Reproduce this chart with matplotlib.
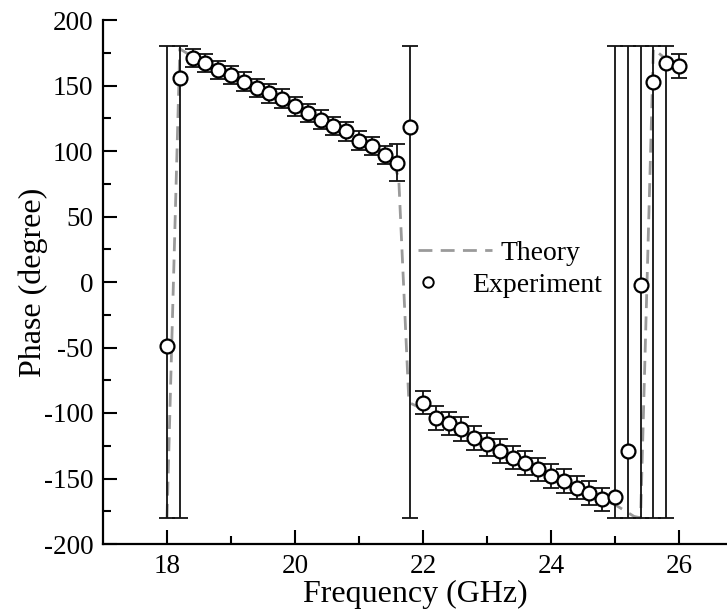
import numpy as np
import matplotlib
matplotlib.use('Agg')
import matplotlib.pyplot as plt
from matplotlib.lines import Line2D

plt.rcParams['font.family'] = ['Liberation Serif', 'DejaVu Serif']
plt.rcParams['axes.unicode_minus'] = False

# measured phase (degree) vs frequency (GHz)
exp_freq = [18.0, 18.2, 18.4, 18.6, 18.8, 19.0, 19.2, 19.4, 19.6, 19.8,
            20.0, 20.2, 20.4, 20.6, 20.8, 21.0, 21.2, 21.4, 21.6, 21.8,
            22.0, 22.2, 22.4, 22.6, 22.8, 23.0, 23.2, 23.4, 23.6, 23.8,
            24.0, 24.2, 24.4, 24.6, 24.8, 25.0, 25.2, 25.4, 25.6, 25.8,
            26.0]
exp_phase = [-49, 156, 171, 167, 162, 158, 153, 148, 144, 140,
             134, 129, 124, 119, 115, 108, 104, 97, 91, 118,
             -92, -104, -108, -112, -119, -124, -129, -134, -138, -143,
             -148, -152, -157, -161, -166, -164, -129, -2, 153, 167,
             165]
# error bar ends (bottom, top)
bar_lo = [-180, -180, 164, 160, 155, 151, 146, 141, 137, 133,
          127, 122, 117, 112, 108, 101, 97, 90, 77, -180,
          -101, -113, -117, -121, -128, -133, -138, -143, -147, -152,
          -157, -161, -166, -170, -175, -180, -180, -180, -180, -180,
          156]
bar_hi = [180, 180, 178, 174, 169, 165, 160, 155, 151, 147,
          141, 136, 131, 126, 122, 115, 111, 104, 105, 180,
          -83, -95, -99, -103, -110, -115, -120, -125, -129, -134,
          -139, -143, -148, -152, -157, 180, 180, 180, 180, 180,
          174]

# simulated phase
th_freq = [18.0, 18.2, 18.4, 18.6, 18.8, 19.0, 19.5, 20.0, 20.5, 21.0,
           21.3, 21.5, 21.62, 21.78, 22.0, 22.5, 23.0, 23.5, 24.0, 24.5,
           25.0, 25.3, 25.4, 25.6, 25.8, 26.0]
th_phase = [-180, 178, 172, 167, 162, 158, 146, 134, 122, 110,
            102, 94, 80, -92, -97, -110, -123, -136, -148, -160,
            -170, -179, -180, 178, 170, 163]

exp_phase = np.array(exp_phase, dtype=float)
yerr = [exp_phase - np.array(bar_lo), np.array(bar_hi) - exp_phase]

fig = plt.figure(figsize=(7.27, 6.12), dpi=100)
ax = fig.add_axes([103 / 727, 68 / 612, 624 / 727, 524 / 612])

th_style = dict(color='#9a9a9a', lw=2.0, ls=(0, (5, 3)))
ax.plot(th_freq, th_phase, zorder=2, **th_style)
ax.errorbar(exp_freq, exp_phase, yerr=yerr, fmt='none', ecolor='#111111',
            elinewidth=1.3, capsize=6, capthick=1.3, zorder=3)
ax.plot(exp_freq, exp_phase, 'o', ms=10, mfc='white', mec='black', mew=1.6,
        zorder=4)

ax.set_xlim(17, 26.75)
ax.set_ylim(-200, 200)
ax.set_xticks([18, 20, 22, 24, 26])
ax.set_xticks([19, 21, 23, 25], minor=True)
ax.set_yticks(np.arange(-200, 201, 50))
ax.set_yticks(np.arange(-175, 200, 50), minor=True)
ax.tick_params(which='both', direction='in', width=1.5, labelsize=19.5,
               top=False, right=False)
ax.tick_params(which='major', length=10, pad=7)
ax.tick_params(which='minor', length=6)
for side in ['top', 'right']:
    ax.spines[side].set_visible(False)
for side in ['left', 'bottom']:
    ax.spines[side].set_linewidth(1.6)

ax.set_xlabel('Frequency (GHz)', fontsize=23, labelpad=1)
ax.set_ylabel('Phase (degree)', fontsize=23, labelpad=-3)

# two separate legends so the entries can sit at different offsets
h_th = Line2D([], [], **th_style)
fig.legend([h_th], ['Theory'], loc='center left', frameon=False,
           bbox_to_anchor=(418 / 727, 359 / 612), fontsize=20,
           handlelength=2.66, handletextpad=0.3, borderpad=0,
           borderaxespad=0)
h_ex = Line2D([], [], ls='none', marker='o', ms=7.5, mfc='white',
              mec='black', mew=1.4)
fig.legend([h_ex], ['Experiment'], loc='center left', frameon=False,
           bbox_to_anchor=(418 / 727, 327 / 612), fontsize=20,
           handlelength=0.72, handletextpad=1.22, borderpad=0,
           borderaxespad=0)

fig.savefig('out.png', dpi=100)
